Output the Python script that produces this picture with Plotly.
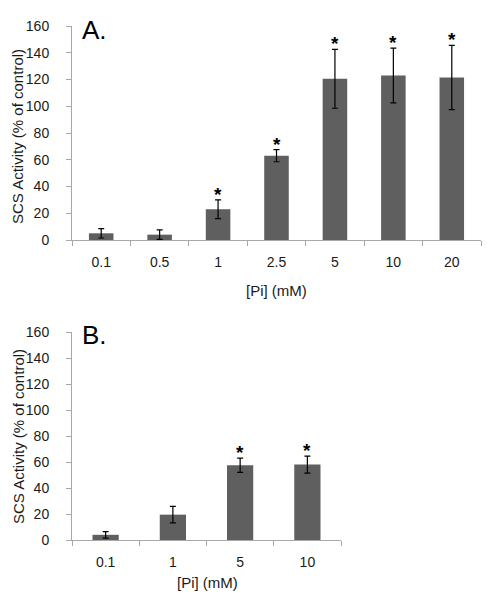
import plotly.graph_objects as go

# Panel A data
cats_a = ["0.1", "0.5", "1", "2.5", "5", "10", "20"]
vals_a = [5, 4, 23, 63, 120.5, 123, 121.5]
errs_a = [3.5, 3.5, 7, 4.5, 22, 20.5, 24]
sig_a = [False, False, True, True, True, True, True]

# Panel B data
cats_b = ["0.1", "1", "5", "10"]
vals_b = [4, 19.5, 57.5, 58]
errs_b = [2.5, 6.3, 5.5, 6.5]
sig_b = [False, False, True, True]

y_ticks = [0, 20, 40, 60, 80, 100, 120, 140, 160]
x_title = "[Pi] (mM)"
y_title = "SCS Activity (% of control)"

# page body has an 8px margin: work in window pixels, convert to paper coords
OFF = 8
W, H = 493 - OFF, 600 - OFF


def PX(px):
    return (px - OFF) / W


def PY(py):
    return 1 - (py - OFF) / H


BAR = "#5f5f5f"
AX = "#a8a8a8"
TXT = "#1a1a1a"
FONT = "Liberation Sans, Arial, Helvetica, sans-serif"

fig = go.Figure()

fig.add_trace(go.Bar(
    x=list(range(len(cats_a))), y=vals_a, width=0.42,
    marker=dict(color=BAR, line=dict(width=0)),
    error_y=dict(type="data", array=errs_a, color="black", thickness=1.2, width=3),
    xaxis="x", yaxis="y", showlegend=False,
))
fig.add_trace(go.Bar(
    x=list(range(len(cats_b))), y=vals_b, width=0.39,
    marker=dict(color=BAR, line=dict(width=0)),
    error_y=dict(type="data", array=errs_b, color="black", thickness=1.2, width=3),
    xaxis="x2", yaxis="y2", showlegend=False,
))

annots = []
for i, (v, e, s) in enumerate(zip(vals_a, errs_a, sig_a)):
    if s:
        annots.append(dict(x=i, y=v + e, xref="x", yref="y", text="<b>*</b>",
                           showarrow=False, yanchor="bottom", yshift=-7,
                           font=dict(size=19, color="black", family=FONT)))
for i, (v, e, s) in enumerate(zip(vals_b, errs_b, sig_b)):
    if s:
        annots.append(dict(x=i, y=v + e, xref="x2", yref="y2", text="<b>*</b>",
                           showarrow=False, yanchor="bottom", yshift=-7,
                           font=dict(size=19, color="black", family=FONT)))

# Panel labels
for lab, ytop in (("A.", 13), ("B.", 318)):
    annots.append(dict(x=PX(80), y=PY(ytop), xref="paper", yref="paper", text=lab,
                       showarrow=False, xanchor="left", yanchor="top",
                       font=dict(size=26, color="black", family=FONT)))

# Axis titles
for yc in (137, 437):
    annots.append(dict(x=PX(18), y=PY(yc), xref="paper", yref="paper", text=y_title,
                       textangle=-90, showarrow=False, xanchor="center", yanchor="middle",
                       font=dict(size=15, color=TXT, family=FONT)))
for xc, yc in ((276, 290), (207, 582)):
    annots.append(dict(x=PX(xc), y=PY(yc), xref="paper", yref="paper", text=x_title,
                       showarrow=False, xanchor="center", yanchor="middle",
                       font=dict(size=15, color=TXT, family=FONT)))

common_x = dict(showline=True, linecolor=AX, linewidth=1, automargin=False,
                ticks="", showgrid=False, zeroline=False, ticklabelstandoff=9,
                tickfont=dict(size=14, color=TXT, family=FONT))
common_y = dict(range=[0, 160], tickvals=y_ticks, showline=True, linecolor=AX,
                linewidth=1, ticks="outside", ticklen=5, tickcolor=AX, automargin=False,
                showgrid=False, zeroline=False, ticklabelstandoff=14,
                tickfont=dict(size=14, color=TXT, family=FONT))

fig.update_layout(
    width=W, height=H,
    margin=dict(l=0, r=0, t=0, b=0),
    plot_bgcolor="white", paper_bgcolor="white",
    xaxis=dict(common_x, domain=[PX(72), PX(481)], anchor="y", range=[-0.5, 6.5],
               tickmode="array", tickvals=list(range(len(cats_a))), ticktext=cats_a),
    yaxis=dict(common_y, domain=[PY(240), PY(26)], anchor="x"),
    xaxis2=dict(common_x, domain=[PX(72), PX(341)], anchor="y2", range=[-0.5, 3.5],
                tickmode="array", tickvals=list(range(len(cats_b))), ticktext=cats_b),
    yaxis2=dict(common_y, domain=[PY(540), PY(332)], anchor="x2"),
    annotations=annots,
)

# Boundary tick marks between categories via minor ticks
fig.update_xaxes(minor=dict(ticks="outside", ticklen=5, tickcolor=AX, showgrid=False,
                            tickmode="array"))
fig.layout.xaxis.minor.tickvals = [i - 0.5 for i in range(len(cats_a) + 1)]
fig.layout.xaxis2.minor.tickvals = [i - 0.5 for i in range(len(cats_b) + 1)]

fig.write_html("out.html")
